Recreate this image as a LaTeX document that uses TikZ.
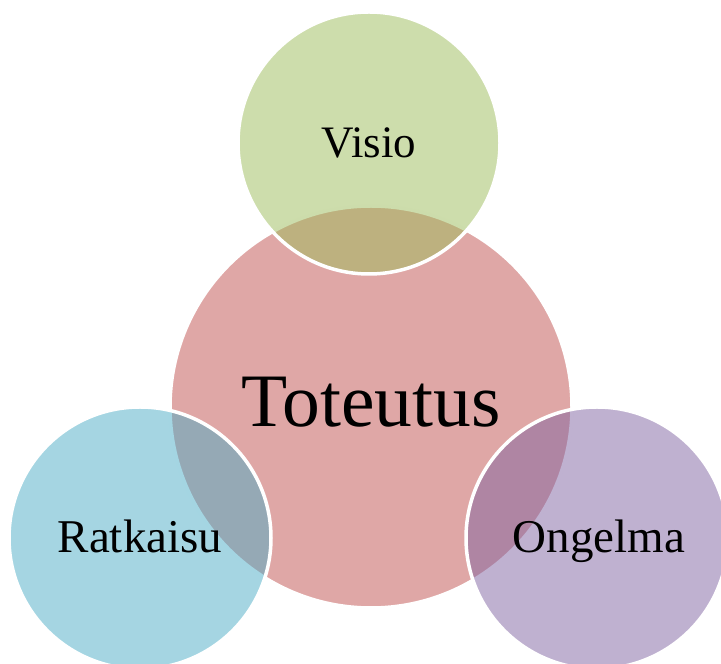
\documentclass[tikz,border=0pt]{standalone}
\usepackage{fontspec}
\setmainfont{Liberation Serif}
\definecolor{cred}{HTML}{C0504D}
\definecolor{cgreen}{HTML}{9BBB59}
\definecolor{cblue}{HTML}{4BACC6}
\definecolor{cpurple}{HTML}{8064A2}
\begin{document}
\begin{tikzpicture}[x=1pt,y=1pt,
  disc/.style={circle, draw=white, line width=3.5pt, fill opacity=0.5, inner sep=0pt},
  small/.style={disc, minimum size=262pt},
  big/.style={disc, minimum size=402pt},
  lbl/.style={anchor=base, inner sep=0pt, text=black}]
\useasboundingbox (0,0) rectangle (721,664);
\begin{scope}
\clip (0,0) rectangle (721,664);
\node[big, fill=cred] (tot) at (371,257) {};
\node[small, fill=cgreen] (vis) at (369,521) {};
\node[small, fill=cblue] (rat) at (140,126) {};
\node[small, fill=cpurple] (ong) at (597,126) {};
\end{scope}
\node[lbl, font=\fontsize{75.5}{80}\selectfont] (tott) at (371,237) {Toteutus};
\node[lbl, font=\fontsize{45}{50}\selectfont] (vist) at (369,506) {Visio};
\node[lbl, font=\fontsize{47}{52}\selectfont] (ratt) at (140,111) {Ratkaisu};
\node[lbl, font=\fontsize{47}{52}\selectfont] (ongt) at (599,111) {Ongelma};
\end{tikzpicture}
\end{document}
